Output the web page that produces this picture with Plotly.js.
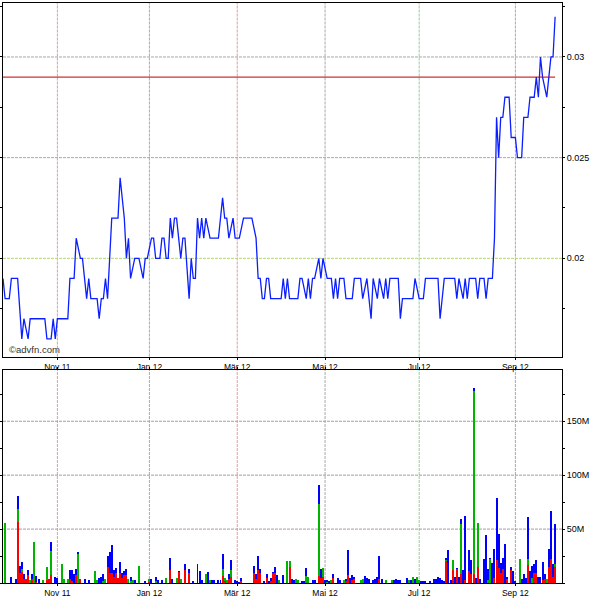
<!DOCTYPE html>
<html><head><meta charset="utf-8">
<script src="https://cdn.plot.ly/plotly-3.0.1.min.js"></script>
<style>html,body{margin:0;padding:0;background:#fff}#chart{width:600px;height:600px}</style>
</head><body><div id="chart"></div>
<script>
// x axis: trading-day index
const tickDays   = [26, 70, 112, 154, 199, 245];
const tickLabels = ['Nov 11', 'Jan 12', 'Mär 12', 'Mai 12', 'Jul 12', 'Sep 12'];

// price series (day index, price)
const priceDays = [0,1,3,4,7,9,10,12,13,20,21,23,24,25,26,31,32,34,35,37,38,40,41,42,45,46,47,48,49,50,
  52,55,56,58,59,60,61,63,65,67,68,69,71,72,73,75,76,77,78,79,80,81,82,83,85,86,87,89,90,91,
  92,93,94,95,96,97,99,103,104,105,106,107,108,110,111,113,115,119,121,122,123,124,125,126,127,128,133,134,135,136,
  137,141,142,143,145,146,147,148,149,151,152,153,155,157,158,159,160,161,163,164,167,168,171,172,174,176,177,179,180,182,
  183,184,185,189,190,191,196,197,199,201,202,208,209,211,216,217,218,220,221,222,223,226,227,228,230,231,232,234,235,236,
  237,238,239,240,242,243,245,246,248,249,251,252,254,255,256,257,258,260,261,262,263,264];
const prices = [0.019,0.018,0.018,0.019,0.019,0.016,0.017,0.016,0.017,0.017,0.016,0.016,0.017,0.016,0.017,0.017,0.019,0.019,0.021,0.020,0.020,0.018,0.019,0.018,0.018,0.017,0.018,0.018,0.019,0.018,
  0.022,0.022,0.024,0.022,0.020,0.021,0.019,0.020,0.020,0.019,0.020,0.020,0.021,0.021,0.020,0.020,0.021,0.021,0.020,0.020,0.022,0.021,0.022,0.022,0.020,0.021,0.021,0.018,0.020,0.019,
  0.019,0.022,0.021,0.022,0.021,0.022,0.021,0.021,0.022,0.023,0.022,0.022,0.021,0.022,0.021,0.021,0.022,0.022,0.021,0.019,0.019,0.018,0.018,0.019,0.019,0.018,0.018,0.019,0.018,0.019,
  0.018,0.018,0.019,0.019,0.018,0.019,0.018,0.019,0.019,0.020,0.019,0.020,0.019,0.019,0.018,0.019,0.018,0.019,0.019,0.018,0.018,0.019,0.019,0.018,0.019,0.017,0.019,0.018,0.019,0.018,
  0.019,0.018,0.019,0.019,0.017,0.018,0.018,0.019,0.018,0.018,0.019,0.019,0.017,0.019,0.019,0.018,0.019,0.018,0.019,0.018,0.019,0.019,0.018,0.019,0.019,0.018,0.019,0.019,0.021,0.027,
  0.025,0.027,0.027,0.028,0.028,0.026,0.026,0.025,0.025,0.027,0.027,0.028,0.028,0.029,0.028,0.030,0.029,0.028,0.029,0.030,0.030,0.032];
const refLevel = 0.029;

// volume (millions), stacked segments red / green / blue
const volDays = [1,4,6,7,8,9,10,11,12,13, 14,15,16,17,19,21,22,23,25,26, 28,29,31,32,33,34,35,36,37,39,
  41,44,45,46,47,48,49,50,51,52, 53,54,55,56,57,58,59,60,61,62, 63,65,68,70,71,73,74,76,78,80,
  81,83,84,85,87,89,91,93,94,95, 97,98,99,100,101,103,104,105,106,107, 108,109,111,112,113,114,120,121,122,123,
  125,126,127,128,129,130,131,132,134,136, 137,138,139,140,141,143,144,145,146,148, 149,151,152,153,154,155,156,157,158,160,
  161,163,164,165,166,167,168,171,172,173, 174,175,177,178,179,180,181,183,186,187, 188,189,190,193,194,195,196,197,198,199,
  200,201,202,204,206,207,208,209,210,211, 212,213,214,215,216,217,218,219,220,221, 223,224,225,226,227,228,230,231,232,233,
  234,235,236,237,238,239,240,241,243,244, 245,247,248,249,250,251,252,253,254,255, 256,257,258,259,260,261,262,263,264];
const volRed = [0,0,0,57,9.3,10,4,4,7.4,0, 4,0,1,0,0,3,3.4,7,0,0, 0,0,0,4,2,0,7,0,3.4,0,
  0,0,0,0,0,0,0,15,9,9, 5.6,9,5,9,5,7,7,0,0,0, 0,0,0,1,0,0,0,0,0,12.3,
  0,0,10,0,12.3,9,0,0,0,0, 0,0,0,0,0,0,0,6.8,2,0, 4,5.6,0,0,0,2,9,4,12,9,
  0,5,0,2,9,9,0,0,0,0, 15,0,0,0,0,0,0,0,0,0, 0,6.8,5,5.6,0,0,0,0,5,0,
  0,0,2,7,0,2.5,4,0,0,0, 0,0,0,0,0,4,0,0,0,0, 0,0,0,0,0,0,0,0,0,0,
  0,0,0,0,0,0,0,0,0,0, 20,0,0,12,0,13,0,8.3,0,3, 11,8,8,0,15,0,0,0,0,0,
  0,5,21,14,9,13,0,4,12,0, 0,0,0,0,0,17,0,0,9,9, 0,0,3,4,0,15,22,6,15];
const volGreen = [55.6,0,0,11.5,0,3,0,0,0,2.5, 0,37.6,0,0,2.7,12,0,22.3,0,0, 17.3,3.4,4,0,0,0,0,27,0,0,
  0,11,3,0,0,1.5,3.4,0,0,0, 0,0,0,0,0,0,0,4,2,3, 0,15.7,0,3,0,1.5,0,0,4.3,0,
  0,4.3,0,3.4,0,0,0,0,0,0, 8,0,3,0,0,0,0,6.2,2.6,2.5, 0,6.4,0,0,0,0,0,0,0,0,
  0,0,0,0,0,0,0,2.5,0,20, 5,0,0,4,3,0,0,6.8,5.6,0, 0,66.6,0,8.4,0,1,0,2.5,0,0,
  0,3,0,0,0,0,0,2.5,4,0, 0,0,0,0,0,0,0,2.5,2.5,0, 0,0,0,0,2.5,0,6,0,6,2.5,
  0,0,0,0,0,0,0,0,0,0, 1.6,0,0,9,0,0,0,46,0,0, 0,0,170,0,40.6,0,0,0,3,22,
  0,0,0,0,0,0,0,0,0,0, 0,22,0,0,0,5.2,0,5,0,0, 0,0,0,0,4,0,0,0,2.3];
const volBlue = [0,5.6,4,12.3,6.7,6.7,4.7,0,4.9,0, 4.7,0,5.8,4,0,0,0,8.3,5.6,5, 0,0,0,8.3,9.7,8.7,6.3,2,0,3.4,
  2.5,0,0,5,5.6,7.2,0,9.7,20,26.2, 6.7,4.9,0,10.6,4.3,4,5.8,0,4,0, 3,0,1.5,0,4,4.5,3,3,0,11.1,
  4,0,1,0,5,4,2,17.3,11,2.5, 0,10,0,3,3,2.5,3,14.1,0,0, 4,9.6,3,2,1,3,7,4,12.7,4,
  1.5,3,2,3,1,6,7,0,7,0, 0,4,2.5,0,0,2,2,7.1,0,2.5, 2.5,17.6,8,0,3,1.5,2,0,3.7,5,
  2.5,0,2,23.8,5,4.5,1.6,0,0,6.5, 5,4,3,4,5.6,21.3,4,0,0,3, 4,2.5,3,5,0,3,0,4,0,0,
  2,2,2,2,4,4,6,5,3,2, 1.8,30.8,3,0,6,1,6,5,12,59.3, 19.8,13.6,2.6,5,0,4,22.2,44.7,10,1,
  18.5,26.5,57.7,31.3,9.5,9.8,36,2,3,11, 2,0,4,8.7,5,38.9,11,11,8.3,12.6, 5.6,6,16.6,4.7,0,17,45.2,11.3,37.6];

const priceGrid = [0.02, 0.025, 0.03];
const volGrid = [50, 100, 150];
const volTickText = ['50M', '100M', '150M'];

const vGridColors = ['#e89a9a', '#a8a8a8', '#e89a9a', '#a8a8a8', '#96d096', '#a8a8a8'];
const xFont = {family: 'Liberation Sans, Arial, sans-serif', size: 8.5, color: '#000'};
const yFont = {family: 'Liberation Sans, Arial, sans-serif', size: 9, color: '#000'};

const barW = 0.95;
const traces = [
  {type: 'scatter', mode: 'lines', x: priceDays, y: prices, xaxis: 'x', yaxis: 'y',
   line: {color: '#0a1eff', width: 1.3}, hoverinfo: 'skip'},
  {type: 'bar', x: volDays, y: volRed, xaxis: 'x2', yaxis: 'y2', width: barW,
   marker: {color: '#ff0000', line: {width: 0}}},
  {type: 'bar', x: volDays, y: volGreen, xaxis: 'x2', yaxis: 'y2', width: barW,
   marker: {color: '#00b400', line: {width: 0}}},
  {type: 'bar', x: volDays, y: volBlue, xaxis: 'x2', yaxis: 'y2', width: barW,
   marker: {color: '#0000ff', line: {width: 0}}}
];

const shapes = [];
tickDays.forEach((d, i) => {
  shapes.push({type: 'line', layer: 'below', xref: 'x', yref: 'y domain', x0: d, x1: d, y0: 0, y1: 1,
    line: {color: vGridColors[i], width: 1, dash: '3px,1px'}});
  shapes.push({type: 'line', layer: 'below', xref: 'x2', yref: 'y2 domain', x0: d, x1: d, y0: 0, y1: 1,
    line: {color: vGridColors[i], width: 1, dash: '3px,1px'}});
});
priceGrid.forEach(v => {
  shapes.push({type: 'line', layer: 'below', xref: 'x domain', yref: 'y', x0: 0, x1: 1, y0: v, y1: v,
    line: {color: v === 0.02 ? '#b4d86a' : '#a8a8a8', width: 1, dash: '3px,1px'}});
});
volGrid.forEach(v => {
  shapes.push({type: 'line', layer: 'below', xref: 'x2 domain', yref: 'y2', x0: 0, x1: 1, y0: v, y1: v,
    line: {color: '#a89aa8', width: 1, dash: '3px,1px'}});
});
shapes.push({type: 'line', xref: 'x', yref: 'y', x0: 0, x1: priceDays[priceDays.length - 1], y0: refLevel, y1: refLevel,
  line: {color: '#c00000', width: 1}});

const xCommon = {
  range: [0, 267.3], domain: [0.005, 0.9367], tickmode: 'array', tickvals: tickDays, ticktext: tickLabels,
  ticks: 'outside', ticklen: 2, tickcolor: '#000', showline: true, linecolor: '#000', linewidth: 1,
  showgrid: false, zeroline: false, tickfont: xFont
};

const layout = {
  width: 600, height: 600, margin: {l: 0, r: 0, t: 0, b: 0},
  paper_bgcolor: '#fff', plot_bgcolor: '#fff', showlegend: false, barmode: 'stack', bargap: 0,
  font: yFont,
  xaxis: Object.assign({}, xCommon, {anchor: 'y', mirror: true}),
  yaxis: {domain: [0.4058, 0.995], range: [0.015124, 0.03268], side: 'right', anchor: 'x',
    tickmode: 'linear', tick0: 0, dtick: 0.005, ticks: 'outside', ticklen: 2, tickcolor: '#000',
    minor: {tickmode: 'linear', tick0: 0, dtick: 0.0025, ticks: 'outside', ticklen: 2, tickcolor: '#000', showgrid: false},
    showline: true, mirror: 'allticks', linecolor: '#000', linewidth: 1, showgrid: false, zeroline: false, tickfont: yFont},
  xaxis2: Object.assign({}, xCommon, {anchor: 'y2', mirror: 'ticks'}),
  yaxis2: {domain: [0.0283, 0.3833], range: [0, 197.5], side: 'right', anchor: 'x2',
    tickmode: 'array', tickvals: volGrid, ticktext: volTickText, ticks: 'outside', ticklen: 2, tickcolor: '#000',
    minor: {tickmode: 'linear', tick0: 0, dtick: 25, ticks: 'outside', ticklen: 2, tickcolor: '#000', showgrid: false},
    showline: true, mirror: 'allticks', linecolor: '#000', linewidth: 1, showgrid: false, zeroline: false, tickfont: yFont},
  shapes: shapes,
  annotations: [{text: '©advfn.com', xref: 'paper', yref: 'paper', x: 0.012, y: 1 - 349 / 600,
    xanchor: 'left', yanchor: 'middle', showarrow: false,
    font: {family: 'Liberation Sans, Arial, sans-serif', size: 9.5, color: '#333'}}]
};

Plotly.newPlot('chart', traces, layout, {staticPlot: true, displayModeBar: false});
</script>
</body></html>
